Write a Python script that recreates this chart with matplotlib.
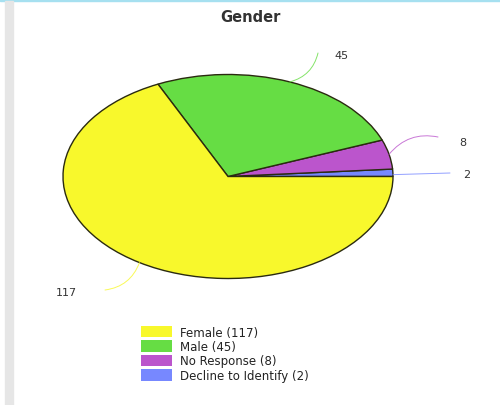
import numpy as np
import matplotlib.pyplot as plt
from matplotlib.patches import Patch, Rectangle

categories = ["Female", "Male", "No Response", "Decline to Identify"]
counts = [117, 45, 8, 2]
colors = ["#f8f82c", "#66dd44", "#bb55cc", "#7788ff"]

# order drawn counterclockwise from 0 degrees
order = [3, 2, 1, 0]

CX, CY, RX, RY = 228, 177.5, 165, 102
xlim = (-CX / RX, (500 - CX) / RX)
ylim = (-(406 - CY) / RY, CY / RY)

fig = plt.figure(figsize=(5, 4.06), dpi=100)
ax = fig.add_axes([0, 0, 1, 1])
ax.axis("off")

vals = [counts[i] for i in order]
cols = [colors[i] for i in order]
wedges, _ = ax.pie(vals, colors=cols, startangle=0, counterclock=True,
                   wedgeprops=dict(edgecolor="#2a2a10", linewidth=1.0))
ax.set_xlim(*xlim)
ax.set_ylim(*ylim)
ax.set_aspect("auto")

# leader lines: end point of line (pixels), text left x, rad
px = lambda x, y: ((x - CX) / RX, (CY - y) / RY)
leaders = {
    1: (px(318, 54), px(334, 56), -0.3),
    2: (px(438, 138), px(459, 143), 0.3),
    3: (px(450, 174), px(463, 175), 0.0),
    0: (px(105, 291), px(56, 293), 0.3),
}
total = sum(counts)
start = 0.0
for i in order:
    frac = counts[i] / total * 360
    mid = np.deg2rad(start + frac / 2)
    start += frac
    edge = (np.cos(mid), np.sin(mid))
    if i == 3:
        edge = (1.0, np.sin(mid) * 0.5)
    end, tpos, rad = leaders[i]
    ax.annotate("", xy=edge, xytext=end,
                arrowprops=dict(arrowstyle="-", color=colors[i], lw=0.7,
                                alpha=0.8,
                                connectionstyle=f"arc3,rad={rad}",
                                shrinkA=0, shrinkB=0))
    ax.text(tpos[0], tpos[1], str(counts[i]), fontsize=8, color="#333333",
            ha="left", va="center")

fig.text(0.5, 0.958, "Gender", ha="center", va="center", fontsize=10.5,
         fontweight="bold", color="#333333")

handles = [Patch(facecolor=c, edgecolor="none") for c in colors]
labels = [f"{n} ({v})" for n, v in zip(categories, counts)]
fig.legend(handles, labels, loc="upper left", bbox_to_anchor=(0.27, 0.21),
           frameon=False, fontsize=8.5, handlelength=2.6, handleheight=1.1,
           labelspacing=0.12, handletextpad=0.7, borderpad=0,
           labelcolor="#222222")

# page frame bits
fig.patches.append(Rectangle((0, 0.995), 1, 0.005, transform=fig.transFigure,
                             color="#a6e0f0", zorder=0))
fig.patches.append(Rectangle((0.01, 0), 0.016, 0.995, transform=fig.transFigure,
                             color="#e6e6e6", zorder=0))

fig.savefig("out.png", dpi=100)
